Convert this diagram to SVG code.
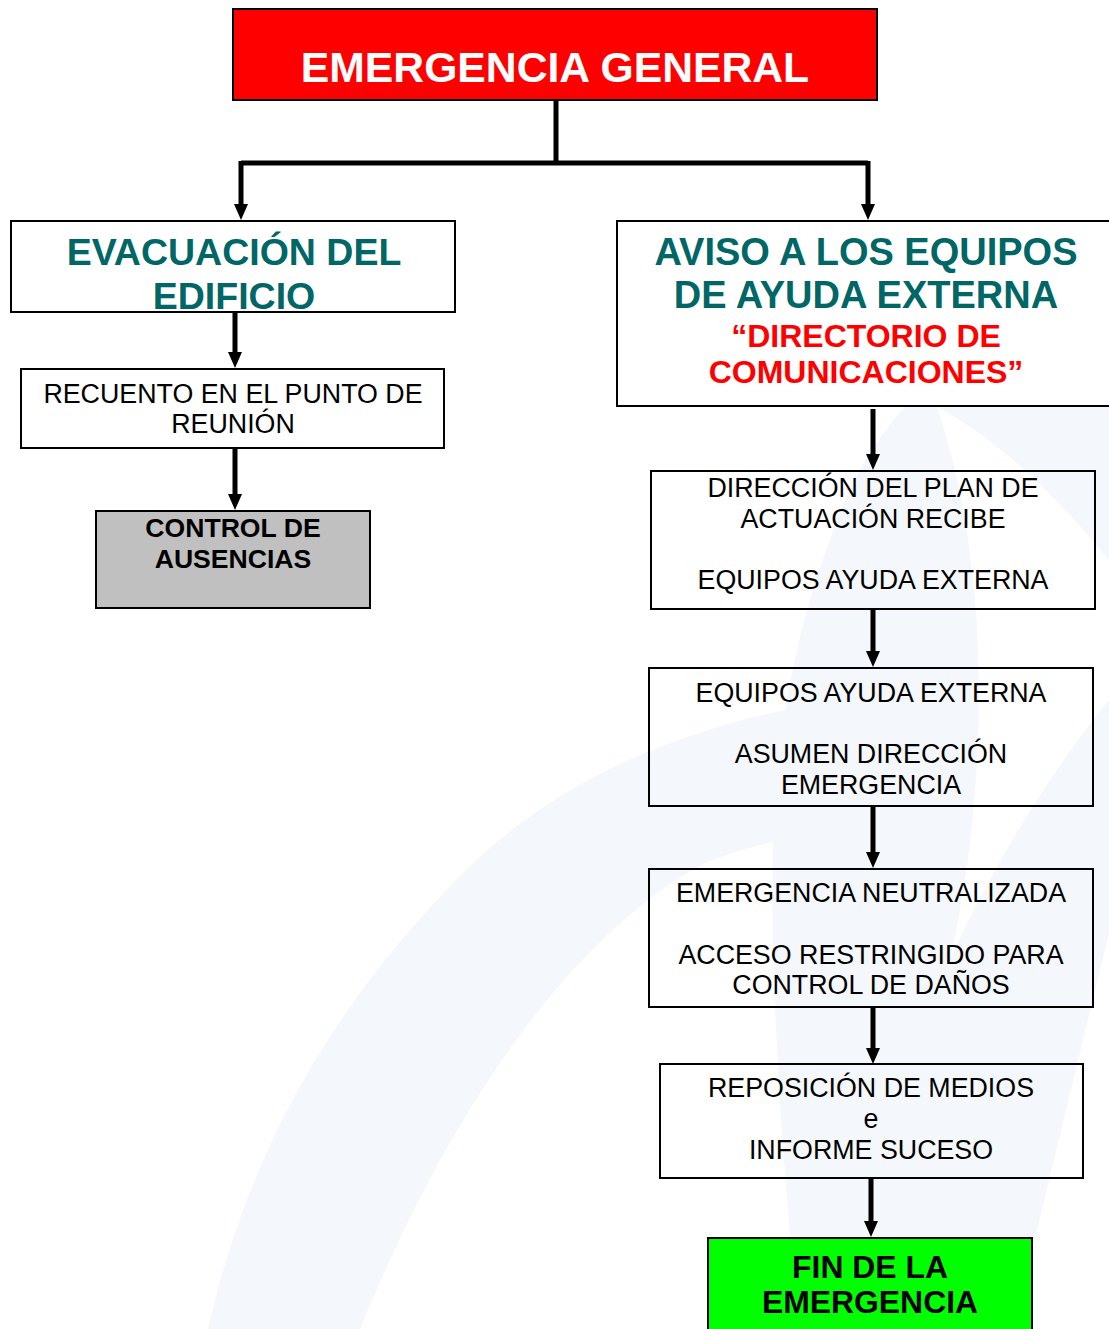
<svg xmlns="http://www.w3.org/2000/svg" width="1109" height="1329" viewBox="0 0 1109 1329">
  <style>
    .box { stroke: #000; stroke-width: 2; }
    .plain { fill: none; }
    .lbl { font-family: "Liberation Sans", Arial, sans-serif; font-size: 26.8px; fill: #000; text-anchor: middle; }
    .bold { font-family: "Liberation Sans", Arial, sans-serif; font-weight: bold; text-anchor: middle; }
    .teal { fill: #006666; font-size: 38px; }
    .red { fill: #ff0000; font-size: 32px; }
    .conn { stroke: #000; stroke-width: 5; fill: none; }
    .wm { fill: #f4f7fb; }
  </style>
  <defs>
    <marker id="arr" viewBox="0 0 16 14" refX="6" refY="7" markerWidth="16" markerHeight="14" markerUnits="userSpaceOnUse" orient="auto">
      <path d="M0,0 L16,7 L0,14 Z" fill="#000"/>
    </marker>
  </defs>

  <rect x="0" y="0" width="1109" height="1329" fill="#ffffff"/>

  <!-- watermark -->
  <g id="watermark">
    <path class="wm" d="M208,1329 C255,1120 360,975 470,866 C560,780 680,725 840,700 L840,830 C770,840 720,855 700,866 C600,920 470,1060 360,1329 Z"/>
    <path class="wm" d="M905,407 L1109,407 L1109,933 L1013,1329 L800,1329 C785,1200 770,1000 773,850 C776,720 800,620 830,540 C850,480 875,440 905,407 Z"/>
    <path fill="#ffffff" d="M937,407 C1000,440 1060,500 1109,560 L1109,700 C1060,760 1000,850 950,960 C975,850 985,720 975,600 C968,520 955,460 937,407 Z"/>
  </g>

  <!-- connectors -->
  <g id="connectors">
    <path class="conn" d="M556,100 L556,163"/>
    <path class="conn" d="M241,163 L868,163"/>
    <path class="conn" d="M241,161 L241,210" marker-end="url(#arr)"/>
    <path class="conn" d="M868,161 L868,210" marker-end="url(#arr)"/>
    <path class="conn" d="M235,312 L235,358" marker-end="url(#arr)"/>
    <path class="conn" d="M235,449 L235,500" marker-end="url(#arr)"/>
    <path class="conn" d="M873,409 L873,460" marker-end="url(#arr)"/>
    <path class="conn" d="M873,609 L873,657" marker-end="url(#arr)"/>
    <path class="conn" d="M873,807 L873,858" marker-end="url(#arr)"/>
    <path class="conn" d="M873,1007 L873,1054" marker-end="url(#arr)"/>
    <path class="conn" d="M871,1178 L871,1227" marker-end="url(#arr)"/>
  </g>

  <g id="n-emergencia-general">
    <rect class="box" x="233" y="9" width="644" height="91" fill="#ff0000"/>
    <text class="bold" x="555" y="82" font-size="42.7" fill="#ffffff">EMERGENCIA GENERAL</text>
  </g>

  <g id="n-evacuacion">
    <rect class="box plain" x="11" y="221" width="444" height="91"/>
    <text class="bold teal" x="234" y="265" style="font-size:37.5px">EVACUACIÓN DEL</text>
    <text class="bold teal" x="234" y="309" style="font-size:37.5px">EDIFICIO</text>
  </g>

  <g id="n-recuento">
    <rect class="box plain" x="21" y="369" width="423" height="79"/>
    <text class="lbl" x="233" y="403">RECUENTO EN EL PUNTO DE</text>
    <text class="lbl" x="233" y="433">REUNIÓN</text>
  </g>

  <g id="n-control">
    <rect class="box" x="96" y="511" width="274" height="97" fill="#c0c0c0"/>
    <text class="bold" x="233" y="537" font-size="26.6">CONTROL DE</text>
    <text class="bold" x="233" y="568" font-size="26.6">AUSENCIAS</text>
  </g>

  <g id="n-aviso">
    <rect class="box" x="617" y="221" width="500" height="185" fill="#ffffff"/>
    <text class="bold teal" x="866" y="265">AVISO A LOS EQUIPOS</text>
    <text class="bold teal" x="866" y="308">DE AYUDA EXTERNA</text>
    <text class="bold red" x="866" y="347">“DIRECTORIO DE</text>
    <text class="bold red" x="866" y="383">COMUNICACIONES”</text>
  </g>

  <g id="n-direccion">
    <rect class="box plain" x="651" y="471" width="444" height="138"/>
    <text class="lbl" x="873" y="497">DIRECCIÓN DEL PLAN DE</text>
    <text class="lbl" x="873" y="528">ACTUACIÓN RECIBE</text>
    <text class="lbl" x="873" y="589">EQUIPOS AYUDA EXTERNA</text>
  </g>

  <g id="n-asumen">
    <rect class="box plain" x="649" y="668" width="444" height="138"/>
    <text class="lbl" x="871" y="702">EQUIPOS AYUDA EXTERNA</text>
    <text class="lbl" x="871" y="763">ASUMEN DIRECCIÓN</text>
    <text class="lbl" x="871" y="794">EMERGENCIA</text>
  </g>

  <g id="n-neutralizada">
    <rect class="box plain" x="649" y="869" width="444" height="138"/>
    <text class="lbl" x="871" y="902">EMERGENCIA NEUTRALIZADA</text>
    <text class="lbl" x="871" y="964">ACCESO RESTRINGIDO PARA</text>
    <text class="lbl" x="871" y="994">CONTROL DE DAÑOS</text>
  </g>

  <g id="n-reposicion">
    <rect class="box plain" x="660" y="1064" width="423" height="114"/>
    <text class="lbl" x="871" y="1097">REPOSICIÓN DE MEDIOS</text>
    <text class="lbl" x="871" y="1128">e</text>
    <text class="lbl" x="871" y="1159">INFORME SUCESO</text>
  </g>

  <g id="n-fin">
    <rect class="box" x="708" y="1238" width="324" height="100" fill="#00ff00"/>
    <text class="bold" x="870" y="1278" font-size="31.9">FIN DE LA</text>
    <text class="bold" x="870" y="1313" font-size="31.9">EMERGENCIA</text>
  </g>
</svg>
